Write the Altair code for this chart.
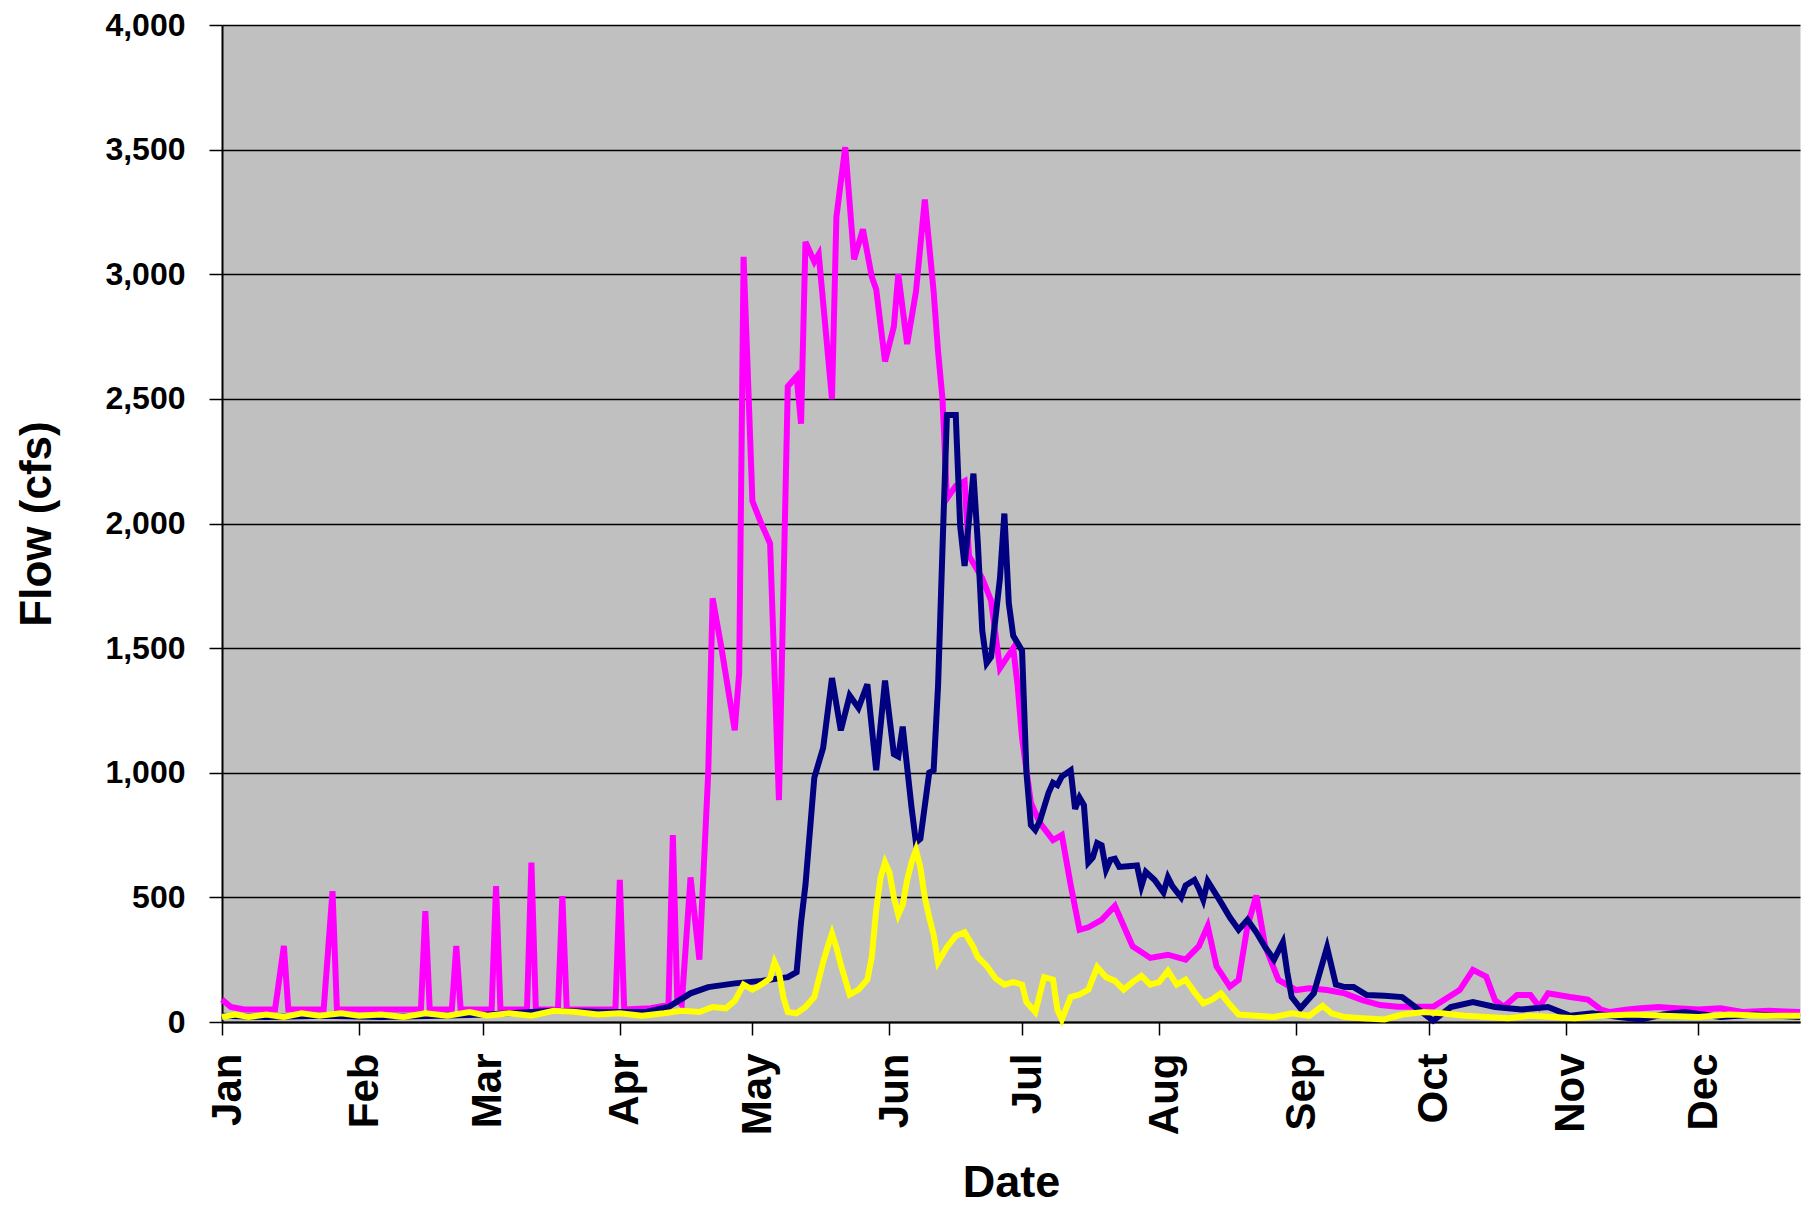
import altair as alt
import pandas as pd

# Day offsets from Jan 1 and flows (cfs)
mag_days = [0, 2, 5, 12, 14, 15, 23, 25, 26, 45, 46, 47, 52, 53, 54, 61, 62, 63, 69, 70, 71, 76, 77, 78, 89, 90, 91,
            97, 100, 101, 102, 103, 104, 106, 108, 110, 111, 113, 116, 117, 118, 120, 122, 124, 126, 128, 130,
            131, 132, 134, 135, 138, 139, 141, 143, 145, 147, 148, 150, 152, 153, 155, 157, 159, 161, 162, 163,
            164, 166, 168, 169, 172, 174, 176, 179, 180, 181, 183, 185, 188, 190, 192, 194, 196, 199, 202, 206,
            210, 214, 218, 221, 223, 225, 228, 230, 232, 234, 236, 239, 243, 246, 250, 254, 258, 262, 266, 274,
            280, 283, 286, 288, 290, 293, 296, 298, 300, 305, 309, 312, 314, 318, 321, 325, 329, 334, 339, 344,
            350, 357]
mag_flow = [90, 60, 50, 50, 305, 50, 50, 525, 50, 50, 445, 50, 50, 305, 50, 50, 545, 50, 50, 640, 50, 50, 505, 50, 50, 570, 50,
            55, 65, 60, 750, 90, 70, 580, 250, 1000, 1700, 1500, 1170, 1400, 3070, 2090, 2000, 1920, 890, 2550, 2590,
            2400, 3130, 3050, 3080, 2500, 3230, 3510, 3060, 3180, 2990, 2940, 2650, 2790, 3000, 2720, 2930, 3300, 2930, 2690, 2500,
            2100, 2150, 2170, 1870, 1780, 1690, 1420, 1500, 1350, 1140, 880, 800, 730, 750, 550, 370, 380, 410, 466, 304,
            257, 270, 250, 304, 385, 223, 142, 169, 385, 507, 304, 169, 128, 135, 128, 115, 88, 68, 61, 61,
            128, 209, 182, 88, 61, 108, 108, 61, 115, 100, 90, 50, 40, 50, 55, 60, 55, 50, 55, 40,
            45, 40]

navy_days = [0, 10, 23, 36, 49, 60, 65, 75, 86, 96, 101, 106, 110, 116, 122, 128, 130, 131, 132, 134,
             136, 138, 140, 142, 144, 146, 148, 150, 152, 153, 154, 156, 157, 158, 160, 161, 162, 163, 164, 166,
             167, 168, 170, 171, 172, 173, 174, 176, 177, 178, 179, 181, 182, 183, 184, 185, 187, 188, 189, 190,
             192, 193, 194, 195, 196, 197, 198, 199, 200, 201, 202, 203, 205, 207, 208, 209, 211, 213, 214, 215,
             217, 218, 220, 221, 222, 223, 226, 228, 230, 232, 234, 236, 238, 240, 241, 242, 244, 247, 250, 252,
             254, 256, 259, 263, 267, 270, 274, 278, 283, 288, 294, 300, 305, 310, 316, 321, 326, 331, 339, 347, 357]
navy_flow = [25, 20, 25, 20, 25, 30, 35, 45, 40, 40, 60, 115, 140, 155, 165, 180, 200, 400, 550, 980,
             1100, 1380, 1170, 1310, 1260, 1355, 1010, 1370, 1075, 1065, 1185, 860, 720, 735, 1000, 1010, 1350, 1900, 2435, 2435,
             1990, 1830, 2200, 1920, 1570, 1440, 1465, 1780, 2040, 1680, 1550, 1490, 1000, 790, 770, 805, 920, 960, 950, 985,
             1010, 855, 900, 870, 640, 660, 718, 709, 611, 651, 655, 622, 625, 628, 545, 602, 570, 520, 580, 545,
             500, 548, 570, 535, 490, 565, 480, 420, 370, 410, 360, 300, 250, 320, 200, 100, 55, 115, 300, 150,
             140, 140, 108, 105, 100, 60, 5, 60, 80, 60, 50, 60, 25, 35, 20, 10, 30, 40, 20, 30, 20]

yel_days = [0, 3, 6, 10, 14, 18, 22, 27, 31, 36, 41, 46, 51, 56, 60, 65, 70, 75, 80, 85,
            90, 95, 100, 104, 108, 111, 114, 116, 118, 120, 122, 124, 125, 126, 127, 128, 130, 132, 134, 136,
            137, 138, 139, 140, 141, 142, 144, 146, 147, 148, 149, 150, 151, 152, 153, 154, 155, 156, 157, 158,
            159, 160, 161, 162, 164, 166, 168, 170, 171, 173, 175, 177, 179, 181, 182, 184, 186, 188, 189, 190,
            192, 194, 196, 198, 200, 202, 204, 206, 208, 210, 212, 214, 216, 218, 220, 222, 224, 226, 228, 230,
            234, 238, 242, 246, 249, 251, 254, 258, 263, 267, 272, 276, 281, 286, 291, 296, 301, 306, 312, 319,
            326, 334, 341, 349, 357]
yel_flow = [20, 30, 20, 30, 20, 35, 25, 35, 25, 30, 20, 35, 25, 40, 25, 35, 25, 45, 40, 30,
            35, 25, 35, 45, 40, 60, 55, 85, 150, 130, 150, 175, 240, 200, 100, 40, 35, 60, 100, 240,
            300, 355, 300, 230, 170, 110, 130, 170, 260, 450, 580, 640, 600, 500, 430, 470, 570, 640, 690, 620,
            500, 420, 350, 240, 300, 345, 360, 300, 260, 225, 175, 150, 160, 150, 80, 40, 180, 170, 50, 10,
            100, 110, 130, 220, 180, 165, 130, 160, 185, 150, 160, 205, 150, 170, 120, 75, 90, 115, 70, 30,
            25, 20, 35, 25, 65, 35, 20, 15, 10, 30, 40, 35, 25, 20, 15, 25, 20, 15, 25, 30,
            25, 20, 30, 25, 25]

y_ticks = [0, 500, 1000, 1500, 2000, 2500, 3000, 3500, 4000]
month_numbers = list(range(1, 13))

base_date = pd.Timestamp("2001-01-01")


def frame(days, flows):
    return pd.DataFrame({"date": base_date + pd.to_timedelta(days, unit="D"), "flow": flows})


FONT = "Liberation Sans, Arial, sans-serif"

x_enc = alt.X(
    "date:T",
    scale=alt.Scale(domain=[alt.DateTime(year=2001, month=1, date=1),
                            alt.DateTime(year=2001, month=12, date=24)]),
    axis=alt.Axis(
        values=[alt.DateTime(year=2001, month=m, date=1) for m in month_numbers],
        format="%b", labelAngle=270, grid=False, title="Date",
        labelFont=FONT, labelFontSize=42, labelFontWeight="bold", labelColor="black",
        labelPadding=18, labelOffset=5, tickSize=13, tickColor="black", tickWidth=1.5,
        domainColor="black", domainWidth=2,
        titleFont=FONT, titleFontSize=45, titleFontWeight="bold", titleColor="black",
        titleY=174, titleBaseline="alphabetic",
    ),
)
y_enc = alt.Y(
    "flow:Q",
    scale=alt.Scale(domain=[0, 4000], nice=False),
    axis=alt.Axis(
        values=y_ticks, format=",d", grid=True, gridColor="black", gridWidth=1.5,
        title="Flow (cfs)",
        labelFont=FONT, labelFontSize=32, labelFontWeight="bold", labelColor="black",
        labelPadding=24, tickSize=13, tickColor="black", tickWidth=1.5,
        domainColor="black", domainWidth=2,
        titleFont=FONT, titleFontSize=44, titleFontWeight="bold", titleColor="black",
        titleAngle=270, titleX=-163, titleY=498.5, titleBaseline="bottom", titleAlign="center",
    ),
)


def line(df, color):
    return alt.Chart(df).mark_line(color=color, strokeWidth=6).encode(x=x_enc, y=y_enc)


chart = alt.layer(
    line(frame(mag_days, mag_flow), "#FF00FF"),
    line(frame(navy_days, navy_flow), "#000080"),
    line(frame(yel_days, yel_flow), "#FFFF00"),
).properties(
    width=1578, height=997,
    padding={"left": 214, "top": 17, "right": 4, "bottom": 183},
    autosize=alt.AutoSizeParams(type="none"),
    background="white",
).configure_view(fill="#C0C0C0", stroke="transparent")

chart.save("out.html", embed_options={"renderer": "svg", "actions": False})
